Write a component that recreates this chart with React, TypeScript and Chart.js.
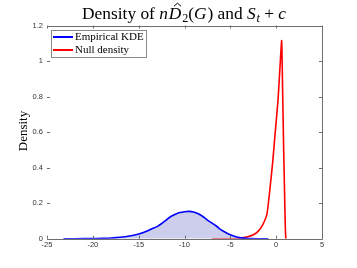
import React, { useEffect, useRef } from "react";
import { Chart, registerables } from "chart.js";

Chart.register(...registerables);

const kdeX = [-23.2, -22, -20, -19, -18, -17, -16, -15, -14, -13.5, -13, -12.5, -12, -11.5, -11, -10.5, -10, -9.5, -9, -8.5, -8, -7.5, -7, -6.5, -6, -5.5, -5, -4.5, -4, -3.5, -3, -2, -0.85];
const kdeY = [0, 0, 0.001, 0.002, 0.004, 0.008, 0.015, 0.026, 0.045, 0.058, 0.068, 0.085, 0.105, 0.125, 0.138, 0.147, 0.152, 0.154, 0.15, 0.14, 0.125, 0.105, 0.088, 0.07, 0.05, 0.035, 0.022, 0.013, 0.006, 0.003, 0.001, 0, 0];

const nullX = [-7, -6, -5, -4, -3.5, -3, -2.5, -2, -1.5, -1, -0.7, -0.4, -0.1, 0.2, 0.4, 0.6, 0.7, 0.8, 0.9, 1.0, 1.05];
const nullY = [0, 0, 0.001, 0.003, 0.006, 0.012, 0.022, 0.04, 0.075, 0.14, 0.27, 0.42, 0.6, 0.78, 0.95, 1.115, 0.85, 0.55, 0.3, 0.06, 0];

const xTicks = [-25, -20, -15, -10, -5, 0, 5];
const yTicks = [0, 0.2, 0.4, 0.6, 0.8, 1, 1.2];
const seriesNames = ["Empirical KDE", "Null density"];

const SERIF = "'Liberation Serif', 'DejaVu Serif', serif";
const SANS = "'Liberation Sans', Arial, sans-serif";

const framePlugin = {
  id: "frame",
  afterDraw(chart: any) {
    const ctx = chart.ctx;
    const { left, right, top, bottom } = chart.chartArea;
    const xs = chart.scales.x;
    const ys = chart.scales.y;
    ctx.save();
    ctx.strokeStyle = "#6e6e6e";
    ctx.lineWidth = 1;
    ctx.beginPath();
    ctx.moveTo(left, Math.round(top) + 0.5);
    ctx.lineTo(Math.round(right) + 0.5, Math.round(top) + 0.5);
    ctx.lineTo(Math.round(right) + 0.5, Math.round(bottom) + 0.5);
    ctx.lineTo(left, Math.round(bottom) + 0.5);
    ctx.stroke();
    const tl = 3;
    ctx.beginPath();
    for (const v of xTicks) {
      const px = Math.round(xs.getPixelForValue(v)) + 0.5;
      ctx.moveTo(px, bottom);
      ctx.lineTo(px, bottom - tl);
      ctx.moveTo(px, top);
      ctx.lineTo(px, top + tl);
    }
    for (const v of yTicks) {
      const py = Math.round(ys.getPixelForValue(v)) + 0.5;
      ctx.moveTo(left, py);
      ctx.lineTo(left + tl, py);
      ctx.moveTo(right, py);
      ctx.lineTo(right - tl, py);
    }
    ctx.stroke();

    // Legend
    const lx = 51.5, ly = 30.5, lw = 95, lh = 27;
    ctx.fillStyle = "#ffffff";
    ctx.fillRect(lx, ly, lw, lh);
    ctx.strokeStyle = "#8a8a8a";
    ctx.strokeRect(lx, ly, lw, lh);
    const colors = ["#0000ff", "#ff0000"];
    const rows = [37, 50];
    ctx.font = `11px ${SERIF}`;
    ctx.textBaseline = "middle";
    ctx.textAlign = "left";
    for (let i = 0; i < 2; i++) {
      ctx.strokeStyle = colors[i];
      ctx.lineWidth = 2;
      ctx.beginPath();
      ctx.moveTo(53, rows[i]);
      ctx.lineTo(73, rows[i]);
      ctx.stroke();
      ctx.fillStyle = "#000";
      ctx.fillText(seriesNames[i], 75, rows[i] + 0.5);
    }

    // Y label
    ctx.save();
    ctx.translate(27, 131);
    ctx.rotate(-Math.PI / 2);
    ctx.font = `13px ${SERIF}`;
    ctx.textAlign = "center";
    ctx.textBaseline = "alphabetic";
    ctx.fillStyle = "#000";
    ctx.fillText("Density", 0, 0);
    ctx.restore();

    // Title
    const pieces: { t: string; it?: boolean; sub?: boolean; hat?: boolean }[] = [
      { t: "Density of " },
      { t: "n", it: true },
      { t: "D", it: true, hat: true },
      { t: "2", sub: true },
      { t: "(" },
      { t: "G", it: true },
      { t: ")" },
      { t: " and " },
      { t: "S", it: true },
      { t: "t", it: true, sub: true },
      { t: " + " },
      { t: "c", it: true },
    ];
    const measure = (size: number) => {
      const ws: number[] = [];
      let tot = 0;
      for (const p of pieces) {
        ctx.font = `${p.it ? "italic " : ""}${p.sub ? size * 0.7 : size}px ${SERIF}`;
        const w = ctx.measureText(p.t).width + (p.it && !p.sub ? size * 0.05 : 0);
        ws.push(w);
        tot += w;
      }
      return { ws, tot };
    };
    let size = 16;
    const m0 = measure(size);
    size = size * (205 / m0.tot);
    const { ws: widths, tot: total } = measure(size);
    let x = 184.5 - total / 2;
    const base = 19;
    ctx.fillStyle = "#000";
    ctx.textAlign = "left";
    ctx.textBaseline = "alphabetic";
    pieces.forEach((p, i) => {
      ctx.font = `${p.it ? "italic " : ""}${p.sub ? size * 0.7 : size}px ${SERIF}`;
      const y = p.sub ? base + 3 : base;
      ctx.fillText(p.t, x, y);
      if (p.hat) {
        const cx = x + widths[i] / 2 + 2;
        const hy = base - size * 0.68 - 2;
        ctx.strokeStyle = "#000";
        ctx.lineWidth = 1;
        ctx.beginPath();
        ctx.moveTo(cx - 3.5, hy + 1);
        ctx.lineTo(cx, hy - 2);
        ctx.lineTo(cx + 3.5, hy + 1);
        ctx.stroke();
      }
      x += widths[i];
    });
    ctx.restore();
  },
};

export default function App() {
  const ref = useRef<HTMLCanvasElement>(null);
  useEffect(() => {
    document.body.style.margin = "0";
    const canvas = ref.current!;
    const chart = new Chart(canvas, {
      type: "line",
      data: {
        datasets: [
          {
            label: seriesNames[0],
            data: kdeX.map((x, i) => ({ x, y: kdeY[i] })),
            borderColor: "#0000ff",
            backgroundColor: "rgba(205,205,236,1)",
            fill: "origin",
            borderWidth: 1.6,
            pointRadius: 0,
            tension: 0.3,
          },
          {
            label: seriesNames[1],
            data: nullX.map((x, i) => ({ x, y: nullY[i] })),
            borderColor: "#ff0000",
            fill: false,
            borderWidth: 1.6,
            pointRadius: 0,
            tension: 0.15,
          },
        ],
      },
      options: {
        animation: false,
        responsive: false,
        devicePixelRatio: 1,
        layout: { padding: { top: 25.5, right: 35, left: 0, bottom: 0 } },
        plugins: { legend: { display: false }, title: { display: false }, tooltip: { enabled: false } },
        scales: {
          x: {
            type: "linear",
            min: -25,
            max: 5,
            afterBuildTicks: (s: any) => { s.ticks = xTicks.map((v) => ({ value: v })); },
            afterFit: (s: any) => { s.height = 29.3; },
            grid: { display: false, drawTicks: false },
            border: { display: false },
            ticks: {
              padding: 2,
              font: { size: 7.5, family: SANS },
              color: "#333",
              maxRotation: 0,
              autoSkip: false,
              callback: (v: any) => String(v),
            },
          },
          y: {
            type: "linear",
            min: 0,
            max: 1.2,
            afterBuildTicks: (s: any) => { s.ticks = yTicks.map((v) => ({ value: v })); },
            afterFit: (s: any) => { s.width = 47; },
            grid: { display: false, drawTicks: false },
            border: { display: false },
            ticks: {
              padding: 4,
              font: { size: 7.5, family: SANS },
              color: "#333",
              autoSkip: false,
              callback: (v: any) => String(Number(Number(v).toFixed(1))),
            },
          },
        },
      },
      plugins: [framePlugin],
    });
    return () => chart.destroy();
  }, []);
  return <canvas ref={ref} width={357} height={268} style={{ display: "block", width: 357, height: 268 }} />;
}
